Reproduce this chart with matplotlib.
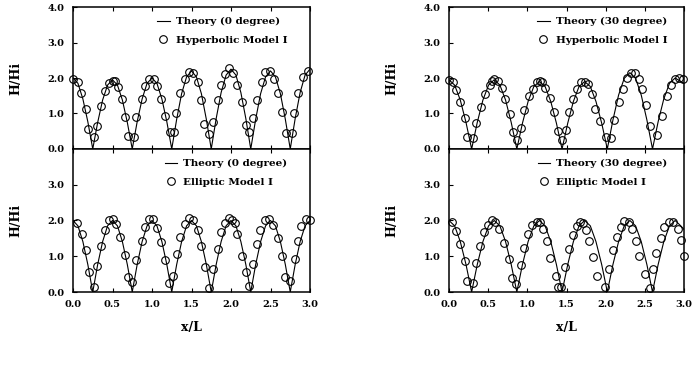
import numpy as np
import matplotlib.pyplot as plt

# ---------------------------
# Data
# ---------------------------

# theory curves (0 degree), x step 0.0625
theory_x0 = [i * 0.0625 for i in range(49)]
theory_hyp0 = [2.0, 1.85, 1.41, 0.77, 0.0,
               0.75, 1.38, 1.80, 1.95, 1.80, 1.38, 0.75, 0.0,
               0.77, 1.41, 1.85, 2.0, 1.85, 1.41, 0.77, 0.0,
               0.84, 1.56, 2.03, 2.2, 2.03, 1.56, 0.84, 0.0,
               0.86, 1.59, 2.08, 2.25, 2.08, 1.59, 0.86, 0.0,
               0.84, 1.56, 2.03, 2.2, 2.03, 1.56, 0.84, 0.0,
               0.86, 1.59, 2.08, 2.25]
theory_ell0 = [2.0, 1.85, 1.41, 0.77, 0.0,
               0.77, 1.41, 1.85, 2.0, 1.85, 1.41, 0.77, 0.0,
               0.77, 1.41, 1.85, 2.0, 1.85, 1.41, 0.77, 0.0,
               0.77, 1.41, 1.85, 2.0, 1.85, 1.41, 0.77, 0.0,
               0.77, 1.41, 1.85, 2.0, 1.85, 1.41, 0.77, 0.0,
               0.77, 1.41, 1.85, 2.0, 1.85, 1.41, 0.77, 0.0,
               0.77, 1.41, 1.85, 2.0]

# theory curves (30 degree)
theory_x30 = [0.0, 0.072, 0.144, 0.217, 0.289, 0.361, 0.433, 0.505, 0.577,
              0.650, 0.722, 0.794, 0.866, 0.938, 1.010, 1.083, 1.155, 1.227,
              1.299, 1.371, 1.443, 1.516, 1.588, 1.660, 1.732, 1.804, 1.876,
              1.949, 2.021, 2.093, 2.165, 2.237, 2.309, 2.382, 2.454, 2.526,
              2.598, 2.670, 2.742, 2.815, 2.887, 2.959, 3.0]
theory_hyp30 = [1.95, 1.80, 1.38, 0.75, 0.0,
                0.75, 1.38, 1.80, 1.95, 1.80, 1.38, 0.75, 0.0,
                0.73, 1.34, 1.76, 1.9, 1.76, 1.34, 0.73, 0.0,
                0.73, 1.34, 1.76, 1.9, 1.76, 1.34, 0.73, 0.0,
                0.82, 1.52, 1.99, 2.15, 1.99, 1.52, 0.82, 0.0,
                0.77, 1.41, 1.85, 2.0, 1.90, 1.85]
theory_ell30 = [2.0, 1.85, 1.41, 0.77, 0.0,
                0.77, 1.41, 1.85, 2.0, 1.85, 1.41, 0.77, 0.0,
                0.77, 1.41, 1.85, 2.0, 1.85, 1.41, 0.77, 0.0,
                0.77, 1.41, 1.85, 2.0, 1.85, 1.41, 0.77, 0.0,
                0.77, 1.41, 1.85, 2.0, 1.85, 1.41, 0.77, 0.0,
                0.77, 1.41, 1.85, 2.0, 1.85, 1.75]

# Hyperbolic Model I, 0 degree
hyp0_x = [0.0, 0.06, 0.10, 0.16, 0.19, 0.26, 0.30, 0.36, 0.41, 0.46, 0.50,
          0.53, 0.57, 0.62, 0.66, 0.70, 0.77, 0.80, 0.87, 0.91, 0.96, 1.02,
          1.06, 1.12, 1.16, 1.23, 1.28, 1.31, 1.36, 1.42, 1.47, 1.52, 1.58,
          1.62, 1.66, 1.72, 1.77, 1.83, 1.87, 1.92, 1.98, 2.03, 2.08, 2.14,
          2.19, 2.23, 2.28, 2.33, 2.39, 2.43, 2.49, 2.55, 2.60, 2.65, 2.70,
          2.77, 2.80, 2.85, 2.91, 2.97]
hyp0_y = [1.97, 1.90, 1.59, 1.13, 0.56, 0.33, 0.65, 1.21, 1.63, 1.85, 1.92,
          1.92, 1.74, 1.40, 0.91, 0.37, 0.35, 0.89, 1.41, 1.77, 1.96, 1.96,
          1.77, 1.41, 0.93, 0.47, 0.49, 1.02, 1.59, 1.97, 2.18, 2.15, 1.90,
          1.38, 0.70, 0.42, 0.77, 1.38, 1.80, 2.11, 2.27, 2.15, 1.80, 1.33,
          0.68, 0.49, 0.86, 1.38, 1.90, 2.18, 2.20, 1.97, 1.59, 1.05, 0.44,
          0.44, 1.02, 1.59, 2.04, 2.21]

# Elliptic Model I, 0 degree
ell0_x = [0.05, 0.11, 0.16, 0.20, 0.26, 0.31, 0.36, 0.41, 0.46, 0.51, 0.55,
          0.59, 0.66, 0.70, 0.75, 0.80, 0.87, 0.91, 0.96, 1.01, 1.06, 1.11,
          1.16, 1.21, 1.26, 1.32, 1.36, 1.42, 1.47, 1.52, 1.58, 1.62, 1.67,
          1.72, 1.77, 1.83, 1.87, 1.92, 1.97, 2.01, 2.05, 2.08, 2.14, 2.19,
          2.23, 2.28, 2.33, 2.37, 2.43, 2.48, 2.53, 2.60, 2.65, 2.68, 2.75,
          2.81, 2.85, 2.89, 2.95, 3.0]
ell0_y = [1.93, 1.63, 1.17, 0.57, 0.14, 0.74, 1.29, 1.73, 2.00, 2.04, 1.89,
          1.55, 1.03, 0.43, 0.29, 0.90, 1.43, 1.81, 2.03, 2.03, 1.79, 1.41,
          0.89, 0.25, 0.46, 1.05, 1.55, 1.90, 2.06, 2.00, 1.74, 1.29, 0.70,
          0.10, 0.63, 1.20, 1.67, 1.93, 2.06, 2.00, 1.93, 1.61, 1.01, 0.55,
          0.16, 0.79, 1.33, 1.73, 2.00, 2.03, 1.87, 1.50, 1.00, 0.41, 0.31,
          0.93, 1.43, 1.84, 2.03, 2.00]

# Hyperbolic Model I, 30 degree
hyp30_x = [0.0, 0.05, 0.09, 0.14, 0.20, 0.23, 0.31, 0.35, 0.41, 0.46, 0.52,
           0.55, 0.58, 0.62, 0.68, 0.71, 0.78, 0.82, 0.87, 0.92, 0.96, 1.02,
           1.07, 1.12, 1.16, 1.19, 1.23, 1.29, 1.34, 1.39, 1.44, 1.49, 1.53,
           1.58, 1.64, 1.69, 1.74, 1.77, 1.82, 1.87, 1.93, 2.00, 2.07, 2.11,
           2.17, 2.22, 2.27, 2.32, 2.38, 2.42, 2.47, 2.51, 2.57, 2.66, 2.72,
           2.78, 2.83, 2.88, 2.94, 2.99]
hyp30_y = [1.95, 1.90, 1.67, 1.32, 0.87, 0.35, 0.32, 0.73, 1.19, 1.56, 1.80,
           1.92, 1.97, 1.92, 1.73, 1.42, 0.99, 0.48, 0.26, 0.59, 1.11, 1.48,
           1.70, 1.90, 1.92, 1.90, 1.73, 1.45, 1.04, 0.51, 0.26, 0.54, 1.05,
           1.42, 1.69, 1.88, 1.90, 1.83, 1.54, 1.13, 0.80, 0.33, 0.32, 0.83,
           1.32, 1.70, 1.99, 2.14, 2.13, 1.97, 1.69, 1.23, 0.66, 0.40, 0.94,
           1.48, 1.80, 1.97, 1.99, 1.97]

# Elliptic Model I, 30 degree
ell30_x = [0.04, 0.09, 0.14, 0.20, 0.23, 0.31, 0.35, 0.40, 0.45, 0.50, 0.55,
           0.59, 0.64, 0.70, 0.77, 0.80, 0.86, 0.92, 0.96, 1.01, 1.06, 1.12,
           1.16, 1.20, 1.25, 1.29, 1.37, 1.39, 1.43, 1.48, 1.53, 1.58, 1.63,
           1.67, 1.71, 1.75, 1.79, 1.84, 1.89, 1.99, 2.04, 2.09, 2.15, 2.20,
           2.24, 2.30, 2.34, 2.39, 2.43, 2.50, 2.56, 2.60, 2.64, 2.71, 2.75,
           2.81, 2.86, 2.92, 2.96, 3.0]
ell30_y = [1.95, 1.71, 1.33, 0.86, 0.31, 0.26, 0.81, 1.29, 1.67, 1.88, 2.00,
           1.95, 1.76, 1.38, 0.92, 0.38, 0.22, 0.76, 1.24, 1.62, 1.88, 1.97,
           1.95, 1.76, 1.43, 0.95, 0.45, 0.14, 0.14, 0.71, 1.21, 1.59, 1.86,
           1.97, 1.93, 1.74, 1.43, 0.98, 0.46, 0.14, 0.64, 1.17, 1.54, 1.81,
           1.98, 1.95, 1.76, 1.43, 1.00, 0.50, 0.12, 0.64, 1.10, 1.52, 1.81,
           1.97, 1.95, 1.76, 1.46, 1.02]

# ---------------------------
# Plot
# ---------------------------

plt.rcParams['font.family'] = 'DejaVu Serif'
plt.rcParams['font.weight'] = 'bold'
plt.rcParams['font.size'] = 7

fig = plt.figure(figsize=(6.95, 3.65), dpi=100)


def panel(rect, tx, ty, px, py, theory_label, model_label, bottom, leg_x):
    ax = fig.add_axes(rect)
    ax.plot(tx, ty, color='black', lw=0.8, label=theory_label)
    ax.plot(px, py, 'o', ms=5.5, mfc='none', mec='black', mew=0.8,
            label=model_label, clip_on=False)
    ax.set_xlim(0, 3.0)
    ax.set_ylim(0, 4.0)
    ax.set_xticks([0, 0.5, 1.0, 1.5, 2.0, 2.5, 3.0])
    if bottom:
        ax.set_yticks([0, 1, 2, 3])
        ax.set_xticklabels(['%.1f' % v for v in ax.get_xticks()])
    else:
        ax.set_yticks([0, 1, 2, 3, 4])
        ax.set_xticklabels([])
    ax.set_yticklabels(['%.1f' % v for v in ax.get_yticks()])
    ax.tick_params(direction='in', length=3, width=0.8, top=True,
                   labelsize=7, pad=6)
    for s in ax.spines.values():
        s.set_linewidth(1.1)
    ax.legend(loc='upper right', bbox_to_anchor=(leg_x, 0.93), frameon=False,
              borderpad=0, borderaxespad=0, handlelength=1.2,
              handletextpad=0.6, labelspacing=0.9, numpoints=1,
              prop={'family': 'DejaVu Serif', 'weight': 'bold', 'size': 7.5})
    box = ax.get_position()
    fig.text(box.x0 - 57 / 695, (box.y0 + box.y1) / 2, 'H/Hi', rotation=90,
             ha='center', va='center', fontsize=9, fontweight='bold')
    return ax


left = (73 / 695, 237 / 695)
right = (449 / 695, 235 / 695)
top = (0.5918, 0.3890)
bot = (0.2, 0.3918)

panel([left[0], top[0], left[1], top[1]], theory_x0, theory_hyp0,
      hyp0_x, hyp0_y, 'Theory (0 degree)', 'Hyperbolic Model I', False, 0.905)
panel([left[0], bot[0], left[1], bot[1]], theory_x0, theory_ell0,
      ell0_x, ell0_y, 'Theory (0 degree)', 'Elliptic Model I', True, 0.905)
panel([right[0], top[0], right[1], top[1]], theory_x30, theory_hyp30,
      hyp30_x, hyp30_y, 'Theory (30 degree)', 'Hyperbolic Model I', False, 0.93)
panel([right[0], bot[0], right[1], bot[1]], theory_x30, theory_ell30,
      ell30_x, ell30_y, 'Theory (30 degree)', 'Elliptic Model I', True, 0.93)

fig.text((73 + 310) / 2 / 695, 1 - 327 / 365, 'x/L', ha='center', va='center',
         fontsize=9, fontweight='bold')
fig.text((449 + 684) / 2 / 695, 1 - 327 / 365, 'x/L', ha='center', va='center',
         fontsize=9, fontweight='bold')

plt.savefig('out.png', dpi=100)
